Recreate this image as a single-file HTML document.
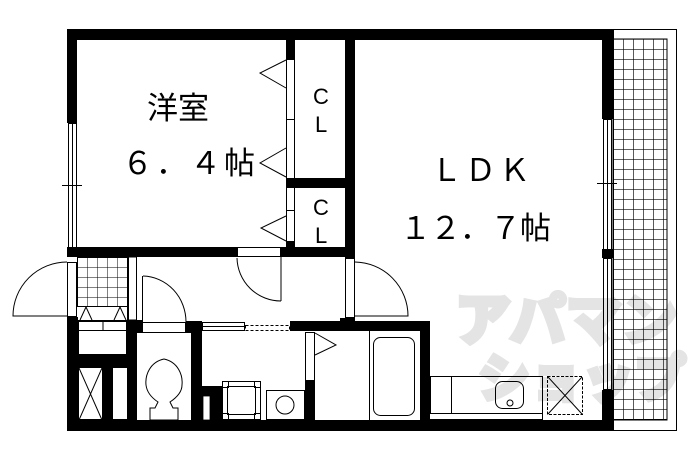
<!DOCTYPE html>
<html><head><meta charset="utf-8"><style>
html,body{margin:0;padding:0;background:#fff;width:690px;height:460px;overflow:hidden}
svg{display:block}
text{font-family:"Liberation Sans","Noto Sans CJK JP",sans-serif;fill:#000}
</style></head><body>
<svg width="690" height="460" viewBox="0 0 690 460" xmlns="http://www.w3.org/2000/svg">
<defs>
<pattern id="g" width="10" height="10" patternUnits="userSpaceOnUse" x="613" y="39">
<path d="M0 0H10M0 0V10" stroke="#000" stroke-width="1.3" fill="none"/>
</pattern>
<pattern id="g2" width="10" height="10" patternUnits="userSpaceOnUse" x="77" y="257">
<path d="M0 0H10M0 0V10" stroke="#000" stroke-width="1" fill="none"/>
</pattern>
</defs>
<!-- watermark -->
<text x="455" y="340" font-size="56" style="fill:#e4e4e4;stroke:#e4e4e4;stroke-width:5;font-weight:bold">アパマン</text>
<text x="478" y="397" font-size="52" style="fill:#e4e4e4;stroke:#e4e4e4;stroke-width:5;font-weight:bold">ショップ</text>

<!-- balcony -->
<rect x="613.5" y="29.5" width="63" height="401" fill="none" stroke="#000"/>
<rect x="613" y="39" width="54" height="381" fill="url(#g)" stroke="#000"/>

<g fill="#000">
<rect x="67" y="29" width="546" height="11"/>
<rect x="67" y="29" width="10" height="94"/>
<rect x="602" y="29" width="11" height="90"/>
<rect x="602" y="249" width="11" height="9"/>
<rect x="602" y="390" width="11" height="41"/>
<rect x="67" y="420" width="546" height="11"/>
<rect x="67" y="247" width="170" height="10"/>
<rect x="281" y="247" width="74" height="10"/>
<rect x="286" y="40" width="9" height="20"/>
<rect x="345" y="29" width="10" height="218"/>
<rect x="286" y="178" width="69" height="10"/>
<rect x="286" y="241" width="9" height="10"/>
<rect x="345" y="247" width="10" height="11"/>
<rect x="340" y="318" width="15" height="13"/>
<rect x="290" y="321" width="140" height="10"/>
<rect x="420" y="321" width="10" height="110"/>
<rect x="67" y="317" width="11" height="114"/>
<rect x="67" y="320" width="75" height="1"/>
<rect x="127" y="257" width="1" height="63"/>
<rect x="127" y="320" width="10" height="100"/>
<rect x="67" y="355" width="70" height="12"/>
<rect x="103" y="367" width="9" height="53"/>
<rect x="127" y="321" width="15" height="12"/>
<rect x="186" y="321" width="16" height="12"/>
<rect x="191" y="321" width="11" height="99"/>
<rect x="202" y="386" width="20" height="34"/>
<rect x="305" y="381" width="10" height="39"/>
</g>
<rect x="203" y="396" width="7" height="24" fill="#fff" stroke="#000" stroke-width="0.8"/>

<g fill="none" stroke="#000" stroke-width="1">
<rect x="68.5" y="123.5" width="8" height="124"/>
<line x1="72.5" y1="123" x2="72.5" y2="247"/>
<line x1="62" y1="185.5" x2="82" y2="185.5"/>
<rect x="603.5" y="119.5" width="8" height="130"/>
<line x1="607.5" y1="119" x2="607.5" y2="249"/>
<rect x="603.5" y="258.5" width="8" height="131"/>
<line x1="607.5" y1="258" x2="607.5" y2="390"/>
<line x1="597" y1="183.5" x2="617" y2="183.5"/>
<line x1="286.5" y1="60" x2="286.5" y2="241"/>
<line x1="294.5" y1="60" x2="294.5" y2="241"/>
<line x1="286" y1="119.5" x2="295" y2="119.5"/>
<line x1="286" y1="210.5" x2="295" y2="210.5"/>
<polyline points="286,60 260,73 286,88"/>
<polyline points="286,148 260,163 286,177"/>
<polyline points="286,216 261,228 286,241"/>
<rect x="237.5" y="247.5" width="43" height="9"/>
<path d="M237 258 A44 44 0 0 0 281 301"/>
<line x1="281" y1="257" x2="281" y2="301"/>
<rect x="67.5" y="262.5" width="9" height="54"/>
<path d="M67 262 A54 54 0 0 0 13 316 L67 316"/>
<rect x="77.5" y="257.5" width="50" height="49" fill="url(#g2)"/>
<rect x="128.5" y="257" width="8" height="63"/>
<polyline points="80,320 86,307 92,320"/>
<polyline points="114,320 120,307 126,320"/>
<rect x="78.5" y="321.5" width="48" height="33"/>
<line x1="78" y1="330.5" x2="127" y2="330.5"/>
<line x1="103" y1="321" x2="103" y2="331"/>
<rect x="78.5" y="367.5" width="24" height="52"/>
<path d="M79 368 L102 420 M102 368 L79 420"/>
<rect x="112.5" y="367.5" width="24" height="52"/>
<rect x="142.5" y="322.5" width="43" height="10"/>
<path d="M143 276 A44 46 0 0 1 186 322"/>
<line x1="142.5" y1="276" x2="142.5" y2="322"/>
<path d="M164 359 C150 362 145 375 146 385 C147 393 152 398 158 402 L155 408 L150 408 L150 420 L178 420 L178 408 L173 408 L170 402 C176 398 182 392 182 385 C183 375 178 362 164 359 Z"/>
<rect x="202.5" y="322.5" width="42" height="8"/>
<line x1="202" y1="326.5" x2="245" y2="326.5"/>
<rect x="245.5" y="325.5" width="44" height="5" stroke-dasharray="3 2"/>
<rect x="222.5" y="381.5" width="38" height="38"/>
<rect x="227.5" y="386.5" width="28" height="28"/>
<rect x="222.5" y="381.5" width="6" height="6"/><rect x="254.5" y="381.5" width="6" height="6"/>
<rect x="222.5" y="413.5" width="6" height="6"/><rect x="254.5" y="413.5" width="6" height="6"/>
<rect x="266.5" y="390.5" width="38" height="29"/>
<circle cx="285" cy="405" r="9"/>
<rect x="305.5" y="332.5" width="9" height="48"/>
<polyline points="315,333 336,345 315,355"/>
<line x1="369.5" y1="331" x2="369.5" y2="420"/>
<rect x="373.5" y="337.5" width="41" height="78" rx="7"/>
<rect x="345.5" y="258.5" width="9" height="59"/>
<path d="M355 262 A54 54 0 0 1 408 316 L355 316"/>
<rect x="430.5" y="376.5" width="112" height="37"/>
<line x1="430" y1="419.5" x2="543" y2="419.5"/>
<line x1="542.5" y1="413" x2="542.5" y2="420"/>
<line x1="451.5" y1="376" x2="451.5" y2="413"/>
<rect x="495.5" y="381.5" width="28" height="27" rx="7"/>
<circle cx="510" cy="403" r="3"/>
<rect x="547.5" y="376.5" width="35" height="38" stroke-dasharray="3 1.5"/>
<path d="M548 377 L582 414 M582 377 L548 414"/>
</g>

<text x="147" y="119" font-size="31">洋室</text>
<text x="122" y="174" font-size="31" letter-spacing="3">６．４帖</text>
<text x="313" y="104" font-size="22">C</text>
<text x="315" y="132" font-size="22">L</text>
<text x="313" y="215" font-size="22">C</text>
<text x="315" y="243" font-size="22">L</text>
<text x="431" y="181" font-size="31" letter-spacing="3">ＬＤＫ</text>
<text x="400" y="239" font-size="31" letter-spacing="-1">１２．７帖</text>
</svg>
</body></html>
